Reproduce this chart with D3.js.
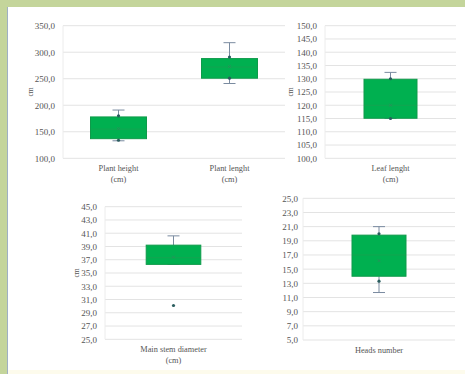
<!DOCTYPE html>
<html><head><meta charset="utf-8">
<script src="https://cdn.jsdelivr.net/npm/d3@7"></script>
<style>
html,body{margin:0;padding:0;background:#fff;}
svg{display:block;}
text{font-family:"Liberation Serif","DejaVu Serif",serif;fill:#555555;}
</style></head>
<body>
<svg id="c" width="465" height="374"></svg>
<script>
// ---- data ----
const p1Categories = ["Plant height|(cm)", "Plant lenght|(cm)"];
const p1Min    = [133, 241];
const p1Q1     = [137, 251];
const p1Median = [155, 272];
const p1Q3     = [178, 288];
const p1Max    = [191, 318];
const p1Mean   = [156, 273];
const p1Points = [[180, 134], [291, 251]];
const p1Ticks  = [100, 150, 200, 250, 300, 350];

const p2Categories = ["Leaf lenght|(cm)"];
const p2Min    = [115];
const p2Q1     = [115.1];
const p2Median = [120];
const p2Q3     = [129.8];
const p2Max    = [132.4];
const p2Mean   = [120];
const p2Points = [[130, 115]];
const p2Ticks  = [100,105,110,115,120,125,130,135,140,145,150];

const p3Categories = ["Main stem diameter|(cm)"];
const p3Min    = [36.3];
const p3Q1     = [36.3];
const p3Median = [37.3];
const p3Q3     = [39.2];
const p3Max    = [40.6];
const p3Mean   = [37.4];
const p3Points = [[30.1]];
const p3Ticks  = [25,27,29,31,33,35,37,39,41,43,45];

const p4Categories = ["Heads number"];
const p4Min    = [11.7];
const p4Q1     = [14.0];
const p4Median = [17.0];
const p4Q3     = [19.8];
const p4Max    = [21.0];
const p4Mean   = [16.2];
const p4Points = [[20.0, 13.3]];
const p4Ticks  = [5,7,9,11,13,15,17,19,21,23,25];

// ---- layout ----
const svg = d3.select("#c");
svg.append("rect").attr("x",0).attr("y",0).attr("width",465).attr("height",374).attr("fill","#ffffff");
svg.append("rect").attr("x",0).attr("y",370).attr("width",465).attr("height",4).attr("fill","#fdfbec");
svg.append("rect").attr("x",0).attr("y",0).attr("width",465).attr("height",7).attr("fill","#c4d59b");
svg.append("rect").attr("x",0).attr("y",0).attr("width",7).attr("height",374).attr("fill","#c4d59b");
svg.append("rect").attr("x",7).attr("y",7).attr("width",1).attr("height",367).attr("fill","#9fb0c4");

const fmt = v => d3.format(".1f")(v).replace(".", ",");

function panel(cfg){
  const {x0,x1,y0,y1,domain,ticks,cats,mins,q1s,meds,q3s,maxs,means,pts,boxW,ytitle,titleX,labelGap} = cfg;
  const g = svg.append("g");
  const y = d3.scaleLinear().domain(domain).range([y1,y0]);
  const x = d3.scaleBand().domain(cats).range([x0,x1]);
  g.selectAll(".grid").data(ticks).enter().append("line")
    .attr("x1",x0).attr("x2",x1).attr("y1",d=>y(d)).attr("y2",d=>y(d))
    .attr("stroke","#e3e3e3").attr("stroke-width",1);
  g.append("line").attr("x1",x0).attr("x2",x0).attr("y1",y0).attr("y2",y1).attr("stroke","#ececec");
  const ax = g.append("g").attr("transform",`translate(${x0},0)`)
    .call(d3.axisLeft(y).tickValues(ticks).tickFormat(fmt).tickSize(0).tickPadding(labelGap));
  ax.select(".domain").remove();
  ax.selectAll("text").attr("font-size","9px").style("font-family",'"Liberation Serif",serif').attr("fill","#555555");
  if (ytitle) {
    g.append("text").attr("transform",`translate(${titleX},${(y0+y1)/2}) rotate(-90)`)
      .attr("text-anchor","middle").attr("dy","0.35em").attr("font-size","7.5px").text("cm");
  }
  cats.forEach((c,i)=>{
    const cx = x(c) + x.bandwidth()/2;
    const w = boxW;
    g.append("line").attr("x1",cx).attr("x2",cx).attr("y1",y(maxs[i])).attr("y2",y(q3s[i])).attr("stroke","#7a8ba0").attr("stroke-width",1);
    g.append("line").attr("x1",cx).attr("x2",cx).attr("y1",y(q1s[i])).attr("y2",y(mins[i])).attr("stroke","#7a8ba0").attr("stroke-width",1);
    g.append("line").attr("x1",cx-6).attr("x2",cx+6).attr("y1",y(maxs[i])).attr("y2",y(maxs[i])).attr("stroke","#7a8ba0").attr("stroke-width",1);
    g.append("line").attr("x1",cx-6).attr("x2",cx+6).attr("y1",y(mins[i])).attr("y2",y(mins[i])).attr("stroke","#7a8ba0").attr("stroke-width",1);
    g.append("rect").attr("x",cx-w/2).attr("width",w).attr("y",y(q3s[i])).attr("height",y(q1s[i])-y(q3s[i]))
      .attr("fill","#00b050").attr("stroke","#0e9a4a").attr("stroke-width",1);
    g.append("line").attr("x1",cx-w/2).attr("x2",cx+w/2).attr("y1",y(meds[i])).attr("y2",y(meds[i]))
      .attr("stroke","#13a450").attr("stroke-width",1);
    const my = y(means[i]);
    g.append("path").attr("d",`M${cx-1.5},${my-1.5}L${cx+1.5},${my+1.5}M${cx-1.5},${my+1.5}L${cx+1.5},${my-1.5}`)
      .attr("stroke","#2b8f5a").attr("stroke-width",0.8);
    g.selectAll(null).data(pts[i]).enter().append("circle")
      .attr("cx",cx).attr("cy",d=>y(d)).attr("r",1.6).attr("fill","#2a5d5e");
  });
  cats.forEach(c=>{
    const cx = x(c) + x.bandwidth()/2;
    c.split("|").forEach((l,k)=>{
      g.append("text").attr("x",cx).attr("y",y1+13+k*10.5).attr("text-anchor","middle")
        .attr("font-size","8.3px").text(l);
    });
  });
}

panel({x0:63,x1:285,y0:25.7,y1:158.3,domain:[100,350],ticks:p1Ticks,cats:p1Categories,mins:p1Min,q1s:p1Q1,meds:p1Median,q3s:p1Q3,maxs:p1Max,means:p1Mean,pts:p1Points,boxW:56,ytitle:true,titleX:30,labelGap:8});
panel({x0:325,x1:456,y0:25.7,y1:158.3,domain:[100,150],ticks:p2Ticks,cats:p2Categories,mins:p2Min,q1s:p2Q1,meds:p2Median,q3s:p2Q3,maxs:p2Max,means:p2Mean,pts:p2Points,boxW:53,ytitle:true,titleX:290,labelGap:8});
panel({x0:105,x1:242,y0:206.7,y1:339.3,domain:[25,45],ticks:p3Ticks,cats:p3Categories,mins:p3Min,q1s:p3Q1,meds:p3Median,q3s:p3Q3,maxs:p3Max,means:p3Mean,pts:p3Points,boxW:54.6,ytitle:true,titleX:76,labelGap:8});
panel({x0:303,x1:455,y0:198.3,y1:340,domain:[5,25],ticks:p4Ticks,cats:p4Categories,mins:p4Min,q1s:p4Q1,meds:p4Median,q3s:p4Q3,maxs:p4Max,means:p4Mean,pts:p4Points,boxW:54,ytitle:false,titleX:0,labelGap:5});
</script>
</body></html>
